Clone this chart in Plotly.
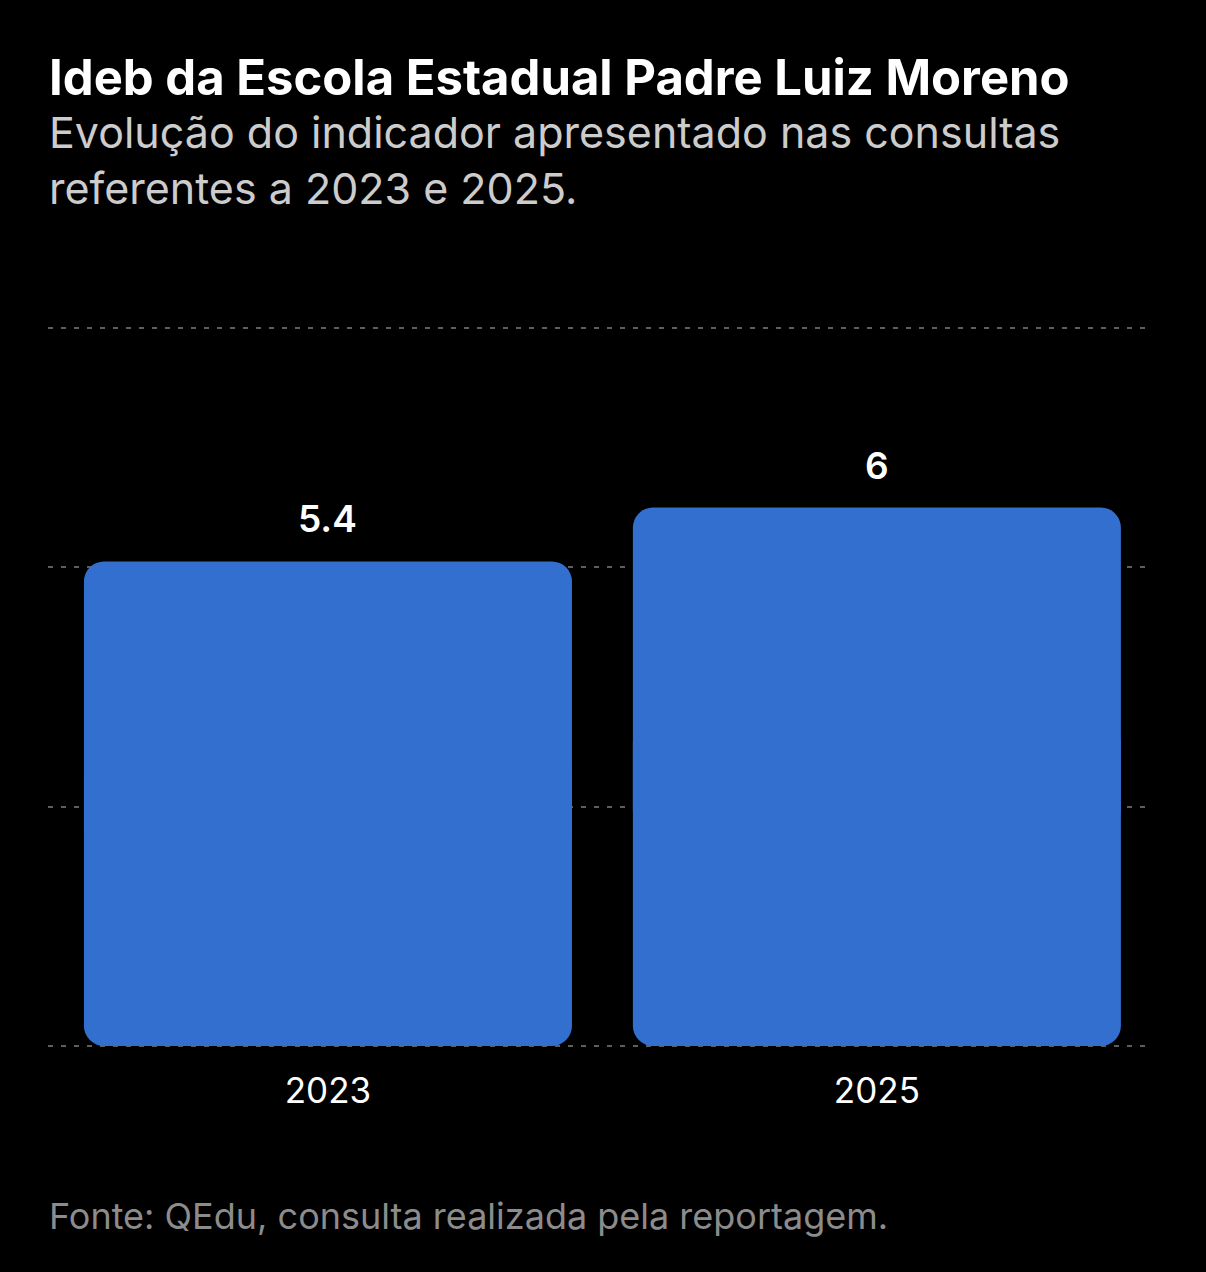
import plotly.graph_objects as go

# ---- data ----
categories = ["2023", "2025"]
values = [5.4, 6]
value_labels = ["5.4", "6"]
y_max = 8
grid_vals = [0, 8 / 3, 16 / 3, 8]

title = "Ideb da Escola Estadual Padre Luiz Moreno"
subtitle = "Evolução do indicador apresentado nas consultas<br>referentes a 2023 e 2025."
source = "Fonte: QEdu, consulta realizada pela reportagem."

# ---- layout constants ----
W, H = 1206, 1272
ML, MR, MT, MB = 48, 53, 327, 225
PH = H - MT - MB
PW = W - ML - MR
FONT = "Inter, Roboto, 'Noto Sans', sans-serif"
BLUE = "#336fce"


def py(px):
    """pixel y (from top) -> paper y"""
    return (H - MB - px) / PH


def px_(x):
    return (x - ML) / PW


fig = go.Figure()

# Bars drawn as two overlapping halves so both ends get rounded corners
top_part_base = [v * 0.4 for v in values]
top_part_len = [v * 0.6 for v in values]
bot_part_base = [v * 0.6 for v in values]
bot_part_len = [-v * 0.6 for v in values]

fig.add_trace(go.Bar(
    x=categories, y=top_part_len, base=top_part_base,
    marker=dict(color=BLUE, line=dict(width=0)),
    hoverinfo="skip", showlegend=False,
))
fig.add_trace(go.Bar(
    x=categories, y=bot_part_len, base=bot_part_base,
    marker=dict(color=BLUE, line=dict(width=0)),
    hoverinfo="skip", showlegend=False,
))

# value labels (category index positions)
for i, (v, t) in enumerate(zip(values, value_labels)):
    fig.add_annotation(
        x=i, y=v, xref="x", yref="y", text=t, showarrow=False,
        yanchor="bottom", yshift=18,
        font=dict(family=FONT, size=37, color="#ffffff", weight=600),
    )

# title / subtitle / source
fig.add_annotation(
    x=px_(47), y=py(46), xref="paper", yref="paper", xanchor="left", yanchor="top",
    text=title, showarrow=False, align="left",
    font=dict(family=FONT, size=49, color="#ffffff", weight=700),
)
fig.add_annotation(
    x=px_(47), y=py(104), xref="paper", yref="paper", xanchor="left", yanchor="top",
    text=subtitle, showarrow=False, align="left",
    font=dict(family=FONT, size=43, color="#cccccc"),
)
fig.add_annotation(
    x=px_(47), y=py(1192), xref="paper", yref="paper", xanchor="left", yanchor="top",
    text=source, showarrow=False, align="left",
    font=dict(family=FONT, size=36, color="#8c8c8c"),
)

fig.update_layout(
    width=W, height=H,
    paper_bgcolor="#000000", plot_bgcolor="#000000",
    margin=dict(l=ML, r=MR, t=MT, b=MB, pad=0),
    barmode="overlay", bargap=0.111, barcornerradius=20,
    font=dict(family=FONT, color="#ffffff"),
    xaxis=dict(
        type="category", range=[-0.51, len(categories) - 1 + 0.503],
        showgrid=False, zeroline=False, showline=False,
        tickfont=dict(family=FONT, size=35, color="#ffffff"),
        ticks="", ticklabelstandoff=20, fixedrange=True,
    ),
    yaxis=dict(
        range=[-0.012, y_max + 0.012], tickvals=grid_vals, showticklabels=False,
        showgrid=True, gridcolor="#5e5e5e", gridwidth=2, griddash="5px,8px",
        zeroline=False, showline=False, fixedrange=True,
    ),
)

fig.write_html(
    "out.html",
    config={"displayModeBar": False},
    post_script="document.body.style.margin='0';document.body.style.background='#000';",
)
